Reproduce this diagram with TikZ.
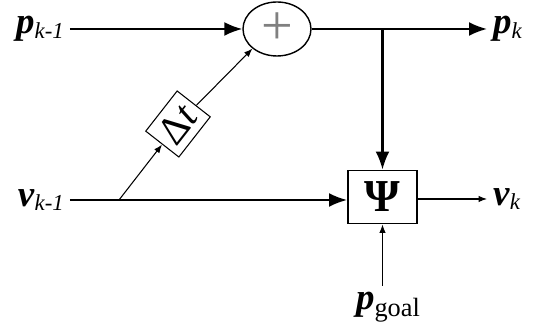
\documentclass[tikz,border=0pt]{standalone}
\usepackage{fontspec}
\setmainfont{Liberation Serif}
\usetikzlibrary{arrows.meta,shapes.geometric}

\tikzset{
  dick/.style={line width=1.2pt, -{Latex[length=0.36cm,width=0.28cm]}},
  duenn/.style={line width=0.6pt, -{Latex[length=0.17cm,width=0.13cm]}},
  block/.style={draw, line width=1.1pt, minimum width=1.38cm, minimum height=1.06cm, inner sep=0pt},
  gross/.style={font=\fontsize{21}{21}\selectfont},
}
\newcommand{\tief}[1]{\raisebox{-2.5pt}{\fontsize{13}{13}\selectfont\itshape #1}}

\begin{document}
\begin{tikzpicture}[x=0.02cm, y=-0.02cm]
    \useasboundingbox (0,0) rectangle (539,333);
    % Summe oben:
    \node[draw, ellipse, line width=0.8pt, minimum width=1.36cm, minimum height=1.08cm, inner sep=0pt,
          text=gray, font=\fontsize{32}{32}\selectfont] (sum) at (277,29) {+};
    % Block Psi:
    \node[block, font=\fontsize{26}{26}\selectfont\bfseries] (psi) at (382.5,197) {Ψ};
    % Delta t, schraeg:
    \node[draw, line width=0.6pt, rotate=52, minimum width=1.02cm, minimum height=0.84cm, inner sep=0pt,
          font=\fontsize{23}{23}\selectfont] (dt) at (178,124) {Δ\textit{t}};
    % Beschriftungen:
    \node[gross, anchor=east] (pkm1) at (70,29) {\textbf{\textit{p}}\tief{k-1}};
    \node[gross, anchor=west] (pk) at (487,29) {\textbf{\textit{p}}\tief{k}};
    \node[gross, anchor=east] (vkm1) at (70,200) {\textbf{\textit{v}}\tief{k-1}};
    \node[gross, anchor=west] (vk) at (487,199) {\textbf{\textit{v}}\tief{k}};
    \node[gross] (pgoal) at (388,307) {\textbf{\textit{p}}\raisebox{-4pt}{\fontsize{15}{15}\selectfont goal}};
    % Knoten:
    \coordinate (abzw) at (119,200);
    \coordinate (knick) at (psi.north |- sum.east);
    \draw[dick] (pkm1.east) -- (sum.west); % p_k-1
    \draw[dick] (sum.east) -- (pk.west); % p_k
    \draw[dick] (knick) -- (psi.north);
    \draw[dick] (vkm1.east) -- (psi.west |- vkm1.east); % v_k-1
    \draw[duenn] (abzw) -- (dt);
    \draw[duenn] (dt) -- (sum.south west);
    \draw[duenn] (psi.east |- vk.west) -- (vk.west); % v_k
    \draw[duenn] (psi.south |- pgoal.north) -- (psi.south); % p_goal
\end{tikzpicture}
\end{document}
